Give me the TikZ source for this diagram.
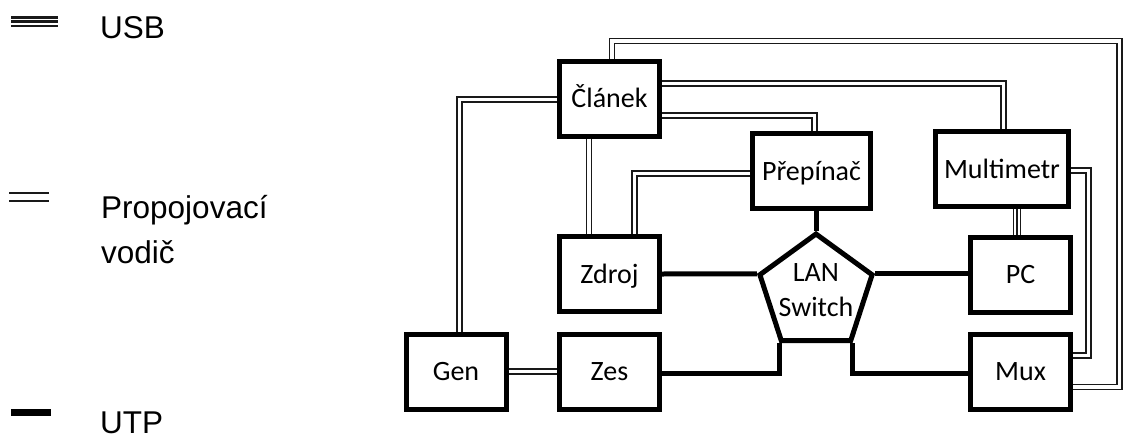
\documentclass[tikz,border=0pt]{standalone}
\usepackage{fontspec}
\setmainfont{Carlito}
\newfontfamily\legendfont{Liberation Sans}
\usetikzlibrary{shapes.geometric}
\begin{document}
\begin{tikzpicture}[x=1pt,y=-1pt,
  box/.style={draw=black, line width=5pt, minimum width=100pt, minimum height=75pt,
    inner sep=0pt, font=\fontsize{28}{34}\selectfont, text height=18pt, text depth=0pt},
  pent/.style={regular polygon, regular polygon sides=5, minimum size=118pt,
    draw=black, line width=5pt, inner sep=0pt},
  prop/.style={draw=black!90, line width=1.4pt, double=white, double distance=3.8pt},
  usb/.style={draw=black!90, line width=1.3pt, double=white, double distance=6pt},
  usbmid/.style={draw=black!90, line width=1.3pt},
  utp/.style={draw=black, line width=5pt},
  legtext/.style={font=\legendfont\fontsize{31.5}{45}\selectfont, anchor=base west, inner sep=0pt}
]
\useasboundingbox (0,0) rectangle (1124,439);

% boxes
\node[box] (clanek) at (609.5,98.5) {Článek};
\node[box, minimum width=118pt] (prep) at (811.5,171) {Přepínač};
\node[box, minimum width=133pt] (multi) at (1002,169) {Multimetr};
\node[box] (zdroj) at (609.5,274) {Zdroj};
\node[box] (gen) at (456,371.5) {Gen};
\node[box] (zes) at (609.5,371.5) {Zes};
\node[box] (pc) at (1020.5,274.5) {PC};
\node[box] (mux) at (1020.5,371.5) {Mux};
\node[pent] (sw) at (816,293) {};
\node[font=\fontsize{28}{35}\selectfont, align=center, inner sep=0pt] (swlabel) at (816,290) {LAN\\Switch};

% propojovaci vodice
\draw[prop] ([xshift=2.5pt]clanek.north) |- (1119.5,41) |- ([yshift=-15.5pt]mux.east);
\draw[prop] ([yshift=15pt]clanek.east) -| ([xshift=1.5pt]multi.north);
\draw[prop] ([yshift=-17pt]clanek.east) -| ([xshift=3pt]prep.north);
\draw[prop] ([yshift=-1pt]clanek.west) -| ([xshift=3.5pt]gen.north);
\draw[prop] ([xshift=-20.5pt]clanek.south) -- ([xshift=-20.5pt]zdroj.north);
\draw[prop] ([yshift=-2.5pt]prep.west) -| ([xshift=25pt]zdroj.north);
\draw[prop] ([yshift=-1.5pt]multi.east) -| (1088.5,355.5) -- ([yshift=16pt]mux.east);
\draw[prop] (gen.east) -- (zes.west);

% USB
\coordinate (usbtop) at ([xshift=15pt]multi.south);
\draw[usb] (usbtop) -- (usbtop |- pc.north);
\draw[usbmid] (usbtop) -- (usbtop |- pc.north);

% UTP
\draw[utp] (sw.corner 1 |- prep.south) -- (sw.corner 1);
\draw[utp] (zdroj.east) -- (sw.corner 2);
\draw[utp] (sw.corner 5) -- (pc.west |- sw.corner 5);
\draw[utp] (sw.corner 3) |- ([yshift=-1.5pt]zes.east);
\draw[utp] (sw.corner 4) |- ([yshift=-1.5pt]mux.west);

% legend
\coordinate (lu1) at (11,21.5);
\coordinate (lu2) at (58,21.5);
\draw[usb, line width=2.4pt, double distance=6pt] (lu1) -- (lu2);
\draw[usbmid, line width=2.4pt] (lu1) -- (lu2);
\node[legtext] (lusb) at (100,38) {USB};

\coordinate (lp1) at (9,197);
\coordinate (lp2) at (49,197);
\draw[prop, line width=2.2pt, double distance=5.6pt] (lp1) -- (lp2);
\node[legtext] (lprop1) at (101,218) {Propojovací};
\node[legtext] (lprop2) at (101,263) {vodič};

\coordinate (lt1) at (11,412.5);
\coordinate (lt2) at (51,412.5);
\draw[utp, line width=7pt] (lt1) -- (lt2);
\node[legtext] (lutp) at (100,433.5) {UTP};
\end{tikzpicture}
\end{document}
